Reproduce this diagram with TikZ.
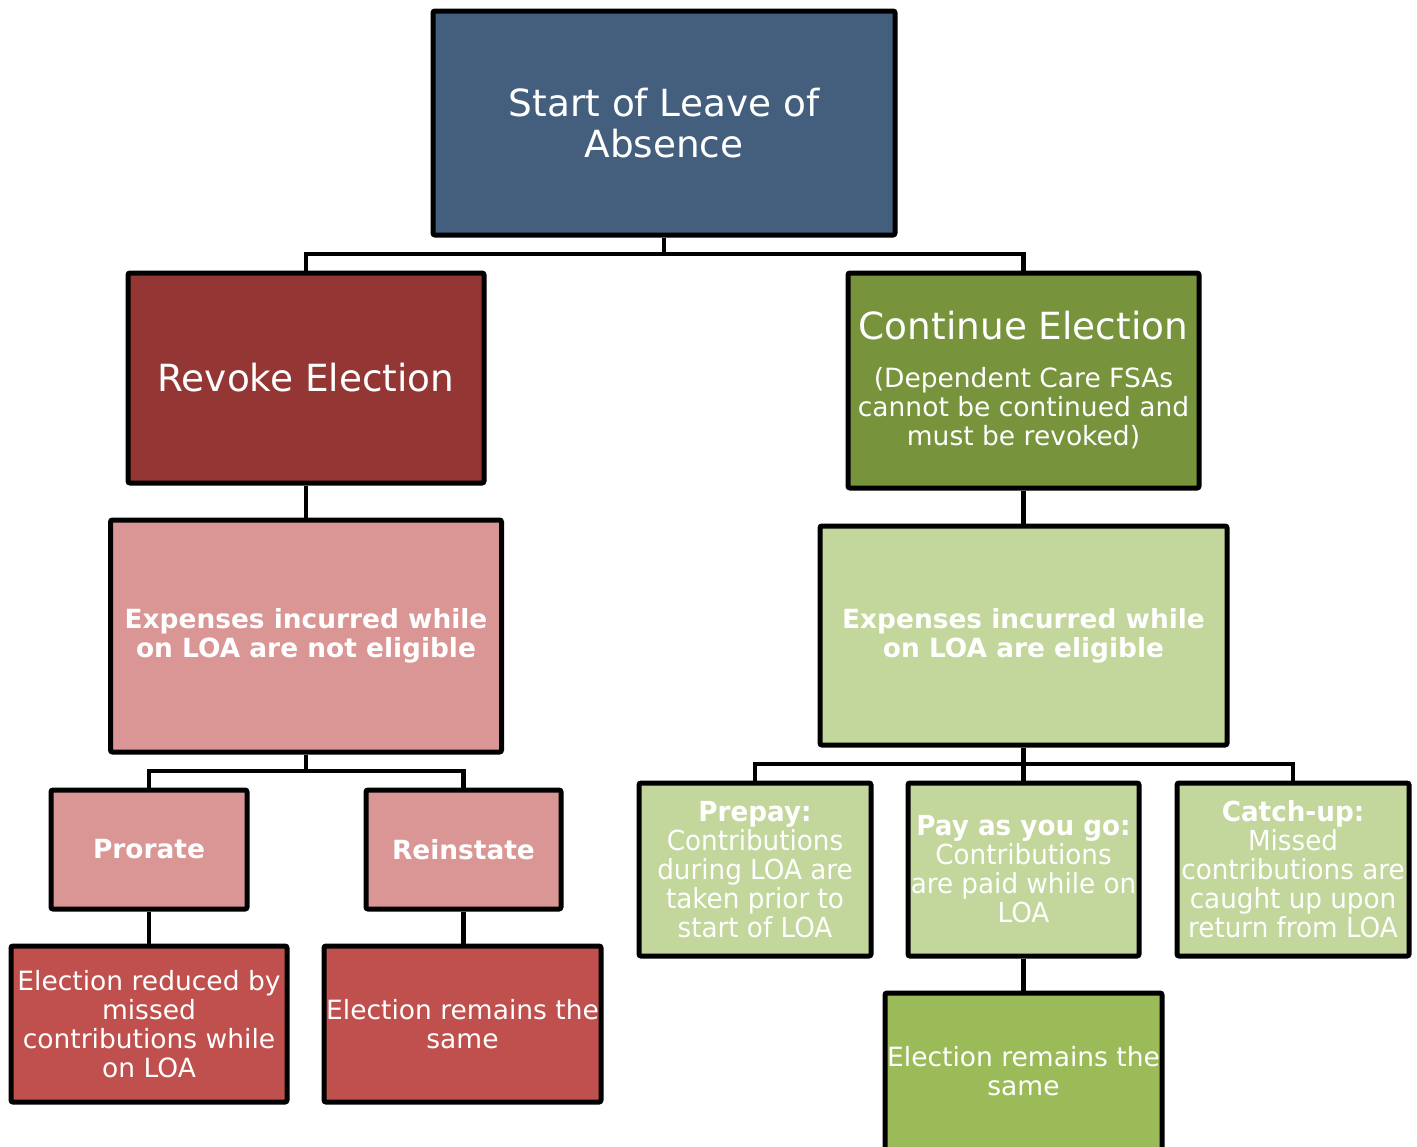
\documentclass[tikz,border=0pt]{standalone}
\usepackage{fontspec}
\setmainfont{DejaVu Sans}
\newfontfamily\narrowfont[FakeStretch=0.95]{DejaVu Sans}
\usepackage{xcolor}
\usetikzlibrary{positioning, calc}

\definecolor{loablue}{HTML}{445F7D}
\definecolor{darkred}{HTML}{943634}
\definecolor{midred}{HTML}{C0504D}
\definecolor{palered}{HTML}{D99694}
\definecolor{darkgreen}{HTML}{77933C}
\definecolor{midgreen}{HTML}{9BBB59}
\definecolor{palegreen}{HTML}{C3D69B}

\begin{document}
\begin{tikzpicture}[
    x=0.5pt, y=-0.5pt,
    box/.style={draw=black, line width=2.5pt, rounded corners=1pt, text=white, align=center, inner sep=0pt},
    bigtxt/.style={font=\fontsize{18.7}{20.5}\selectfont},
    smalltxt/.style={font=\fontsize{13.25}{14.5}\selectfont},
    boldtxt/.style={font=\fontsize{13.2}{14.5}\selectfont\bfseries},
    narrowtxt/.style={font=\fontsize{13.8}{14.5}\selectfont\narrowfont},
    conn/.style={draw=black, line width=2.2pt}
]
  \clip (0,0) rectangle (1417,1146);

  % Top level
  \node[box, bigtxt, fill=loablue, minimum width=231pt, minimum height=112pt] (start) at (664,123) {Start of Leave of\\Absence};

  % Second level
  \node[box, bigtxt, fill=darkred, minimum width=178pt, minimum height=105pt] (revoke) at (306,378) {Revoke Election};
  \node[box, smalltxt, fill=darkgreen, minimum width=175.5pt, minimum height=107.5pt] (cont) at (1023.5,380.5)
    {{\fontsize{18.7}{20.5}\selectfont Continue Election}\\[9.5pt](Dependent Care FSAs\\cannot be continued and\\must be revoked)};

  % Eligibility
  \node[box, boldtxt, fill=palered, minimum width=195.5pt, minimum height=116pt] (notelig) at (306,636) {Expenses incurred while\\on LOA are not eligible};
  \node[box, boldtxt, fill=palegreen, minimum width=203.5pt, minimum height=109.5pt] (elig) at (1023.5,635.5) {Expenses incurred while\\on LOA are eligible};

  % Revoke options
  \node[box, boldtxt, fill=palered, minimum width=98pt, minimum height=59.5pt] (prorate) at (149,849.5) {Prorate};
  \node[box, boldtxt, fill=palered, minimum width=97.5pt, minimum height=59.5pt] (reinstate) at (463.5,849.5) {Reinstate};
  \node[box, smalltxt, fill=midred, minimum width=138pt, minimum height=78pt] (reduced) at (149,1024) {Election reduced by\\missed\\contributions while\\on LOA};
  \node[box, smalltxt, fill=midred, minimum width=138.5pt, minimum height=78pt] (sameleft) at (462.5,1024) {Election remains the\\same};

  % Continue options
  \node[box, narrowtxt, fill=palegreen, minimum width=116pt, minimum height=86.5pt] (prepay) at (755,869.5) {\textbf{Prepay:}\\Contributions\\during LOA are\\taken prior to\\start of LOA};
  \node[box, narrowtxt, fill=palegreen, minimum width=115.5pt, minimum height=86.5pt] (paygo) at (1023.5,869.5) {\textbf{Pay as you go:}\\Contributions\\are paid while on\\LOA};
  \node[box, narrowtxt, fill=palegreen, minimum width=116pt, minimum height=86.5pt] (catchup) at (1293,869.5) {\textbf{Catch-up:}\\Missed\\contributions are\\caught up upon\\return from LOA};
  \node[box, smalltxt, fill=midgreen, minimum width=138.5pt, minimum height=78.5pt] (sameright) at (1023.5,1071.5) {Election remains the\\same};

  % Connectors
  \coordinate (topbus) at (664,254);
  \coordinate (leftbus) at (306,771);
  \coordinate (rightbus) at (1023.5,764);
  \draw[conn] (start.south) -- (topbus);
  \draw[conn] (revoke.north) |- (topbus) -| (cont.north);
  \draw[conn] (revoke.south) -- (notelig.north);
  \draw[conn] (cont.south) -- (elig.north);
  \draw[conn] (notelig.south) -- (leftbus);
  \draw[conn] (prorate.north) |- (leftbus) -| (reinstate.north);
  \draw[conn] (prorate.south) -- (reduced.north);
  \draw[conn] (reinstate.south) -- (reinstate.south |- sameleft.north);
  \draw[conn] (elig.south) -- (paygo.north);
  \draw[conn] (prepay.north) |- (rightbus) -| (catchup.north);
  \draw[conn] (paygo.south) -- (sameright.north);

\end{tikzpicture}
\end{document}
